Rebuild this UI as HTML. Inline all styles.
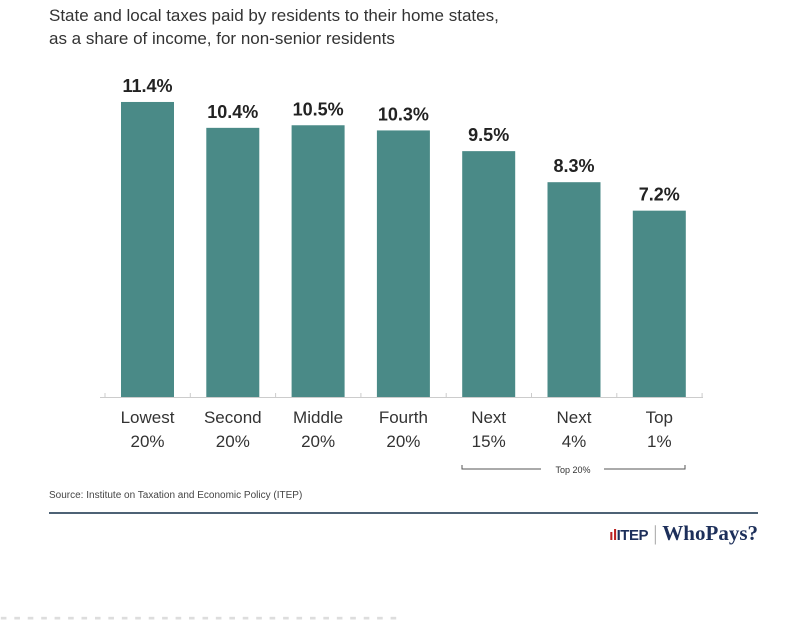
<!DOCTYPE html>
<html><head><meta charset="utf-8"><style>
body{margin:0;width:803px;height:614px;overflow:hidden;background:#fff;font-family:"Liberation Sans",sans-serif;position:relative}
.t{position:absolute;left:49px;top:4px;font-size:17px;line-height:23px;color:#333}
.src{position:absolute;left:49px;top:490px;font-size:10px;color:#444}
.rule{position:absolute;left:49px;top:512px;width:709px;height:2px;background:#4d6275}
.logo{position:absolute;right:45px;top:521px;font-size:21px;font-family:"Liberation Serif",serif;font-weight:bold;color:#1d2f5a;white-space:nowrap}
.cut{position:absolute;left:0;top:604px;font-size:22px;font-weight:bold;color:#ddd;white-space:nowrap}
</style></head><body>
<div class="t">State and local taxes paid by residents to their home states,<br>as a share of income, for non-senior residents</div>
<svg id="c" width="803" height="480" style="position:absolute;left:0;top:0"></svg>
<div class="src">Source: Institute on Taxation and Economic Policy (ITEP)</div>
<div class="rule"></div>
<div class="logo"><span style="font-family:'Liberation Sans',sans-serif;font-size:15px;letter-spacing:-0.5px"><span style="color:#b22">ıl</span>ITEP</span> <span style="color:#aaa;font-weight:normal">|</span> WhoPays?</div>
<div class="cut">- - - - - - - - - - - - - - - - - - - - - - - - - - - - - -</div>
<script>
const categories1=["Lowest","Second","Middle","Fourth","Next","Next","Top"];
const categories2=["20%","20%","20%","20%","15%","4%","1%"];
const values=[11.4,10.4,10.5,10.3,9.5,8.3,7.2];
const valueLabels=["11.4%","10.4%","10.5%","10.3%","9.5%","8.3%","7.2%"];
const NS="http://www.w3.org/2000/svg",svg=document.getElementById('c');
const base=397,scale=25.88,x0=121,step=85.3,bw=53;
const y=v=>base-v*scale, x=i=>x0+i*step;
function mk(t,a,txt){const e=document.createElementNS(NS,t);for(const k in a)e.setAttribute(k,a[k]);if(txt!=null)e.textContent=txt;svg.appendChild(e);return e;}
let ax=mk('line',{x1:100,x2:703,y1:base+0.5,y2:base+0.5,stroke:'#ccc'});


for(let i=0;i<=values.length;i++){let tk=mk('line',{x1:x(i)-16,x2:x(i)-16,y1:base-4,y2:base,stroke:'#ccc'});

}
values.forEach((v,i)=>{
 let r=mk('rect',{x:x(i),y:y(v),width:bw,height:base-y(v),fill:'#4a8a87'});
 
 
 let l=mk('text',{x:x(i)+bw/2,y:y(v)-10,'text-anchor':'middle','font-size':18,'font-weight':'bold',fill:'#222'},valueLabels[i]);
 
 
 let c1=mk('text',{x:x(i)+bw/2,y:423,'text-anchor':'middle','font-size':17,fill:'#333'},categories1[i]);
 
 
 let c2=mk('text',{x:x(i)+bw/2,y:447,'text-anchor':'middle','font-size':17,fill:'#333'},categories2[i]);
 
 
});
let br=mk('path',{d:'M462,465V469H541M604,469H685V465',fill:'none',stroke:'#555'});


let bt=mk('text',{x:573,y:473,'text-anchor':'middle','font-size':9,fill:'#333'},'Top 20%');


</script>
</body></html>
